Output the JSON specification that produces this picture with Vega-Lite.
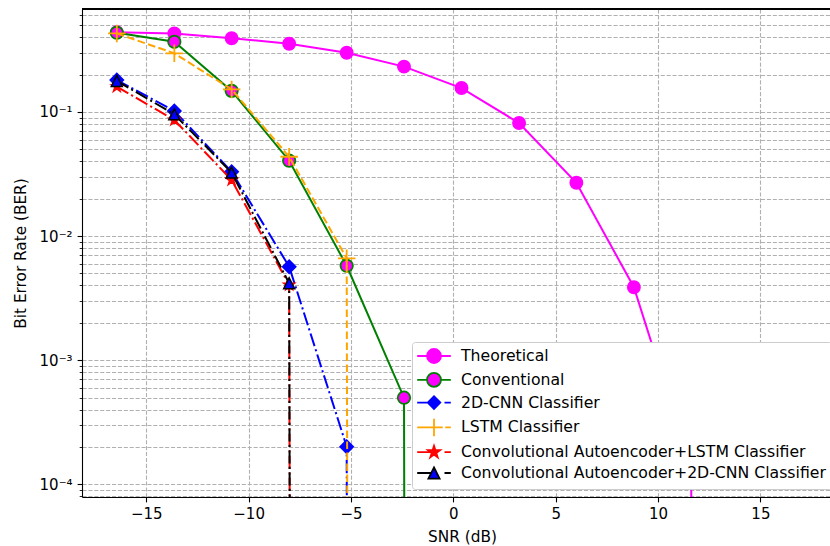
{
  "$schema": "https://vega.github.io/schema/vega-lite/v6.json",
  "width": 748,
  "height": 488,
  "autosize": {"type": "none"},
  "padding": {"left": 82, "top": 9, "right": 0, "bottom": 49},
  "background": "white",
  "config": {
    "view": {"stroke": null},
    "font": "DejaVu Sans",
    "axis": {
      "labelFont": "DejaVu Sans", "titleFont": "DejaVu Sans",
      "labelFontSize": 15, "titleFontSize": 15.3, "titleFontWeight": "normal",
      "labelColor": "black", "titleColor": "black",
      "domainColor": "black", "domainWidth": 1.1,
      "tickColor": "black", "tickWidth": 1.1, "tickSize": 4.9,
      "gridColor": "#b0b0b0", "gridDash": [4.1, 1.8], "gridWidth": 1.1,
      "labelFlush": false, "labelOverlap": false
    }
  },
  "data": {
    "values": [
      {"snr": -16.44, "ber": 0.44, "series": "Theoretical"},
      {"snr": -13.63, "ber": 0.43, "series": "Theoretical"},
      {"snr": -10.83, "ber": 0.393, "series": "Theoretical"},
      {"snr": -8.02, "ber": 0.355, "series": "Theoretical"},
      {"snr": -5.21, "ber": 0.300, "series": "Theoretical"},
      {"snr": -2.41, "ber": 0.232, "series": "Theoretical"},
      {"snr": 0.40, "ber": 0.156, "series": "Theoretical"},
      {"snr": 3.21, "ber": 0.0815, "series": "Theoretical"},
      {"snr": 6.01, "ber": 0.0269, "series": "Theoretical"},
      {"snr": 8.82, "ber": 0.00387, "series": "Theoretical"},
      {"snr": 11.62, "ber": 0.000135, "series": "Theoretical"},
      {"snr": 14.43, "ber": 1e-200, "series": "Theoretical"},
      {"snr": -16.44, "ber": 0.435, "series": "Conventional"},
      {"snr": -13.63, "ber": 0.368, "series": "Conventional"},
      {"snr": -10.83, "ber": 0.148, "series": "Conventional"},
      {"snr": -8.02, "ber": 0.0405, "series": "Conventional"},
      {"snr": -5.21, "ber": 0.00577, "series": "Conventional"},
      {"snr": -2.41, "ber": 0.000499, "series": "Conventional"},
      {"snr": 0.40, "ber": 1e-200, "series": "Conventional"},
      {"snr": -16.44, "ber": 0.181, "series": "2D-CNN Classifier"},
      {"snr": -13.63, "ber": 0.102, "series": "2D-CNN Classifier"},
      {"snr": -10.83, "ber": 0.033, "series": "2D-CNN Classifier"},
      {"snr": -8.02, "ber": 0.00567, "series": "2D-CNN Classifier"},
      {"snr": -5.21, "ber": 0.000201, "series": "2D-CNN Classifier"},
      {"snr": -2.41, "ber": 1e-200, "series": "2D-CNN Classifier"},
      {"snr": -16.44, "ber": 0.43, "series": "LSTM Classifier"},
      {"snr": -13.63, "ber": 0.297, "series": "LSTM Classifier"},
      {"snr": -10.83, "ber": 0.152, "series": "LSTM Classifier"},
      {"snr": -8.02, "ber": 0.0436, "series": "LSTM Classifier"},
      {"snr": -5.21, "ber": 0.00662, "series": "LSTM Classifier"},
      {"snr": -2.41, "ber": 1e-200, "series": "LSTM Classifier"},
      {"snr": -16.44, "ber": 0.160, "series": "Convolutional Autoencoder+LSTM Classifier"},
      {"snr": -13.63, "ber": 0.0862, "series": "Convolutional Autoencoder+LSTM Classifier"},
      {"snr": -10.83, "ber": 0.0283, "series": "Convolutional Autoencoder+LSTM Classifier"},
      {"snr": -8.02, "ber": 0.00404, "series": "Convolutional Autoencoder+LSTM Classifier"},
      {"snr": -5.21, "ber": 1e-200, "series": "Convolutional Autoencoder+LSTM Classifier"},
      {"snr": -16.44, "ber": 0.178, "series": "Convolutional Autoencoder+2D-CNN Classifier"},
      {"snr": -13.63, "ber": 0.0958, "series": "Convolutional Autoencoder+2D-CNN Classifier"},
      {"snr": -10.83, "ber": 0.0325, "series": "Convolutional Autoencoder+2D-CNN Classifier"},
      {"snr": -8.02, "ber": 0.00417, "series": "Convolutional Autoencoder+2D-CNN Classifier"},
      {"snr": -5.21, "ber": 1e-200, "series": "Convolutional Autoencoder+2D-CNN Classifier"}
    ]
  },
  "layer": [
    {
      "transform": [{"filter": "datum.series === 'Theoretical'"}],
      "mark": {"type": "line", "strokeWidth": 2, "clip": true},
      "encoding": {
        "x": {
          "field": "snr", "type": "quantitative",
          "scale": {"domain": [-18.14, 18.4], "nice": false, "zero": false},
          "axis": {
            "title": "SNR (dB)",
            "values": [-15, -10, -5, 0, 5, 10, 15], "format": "d",
            "labelExpr": "replace(datum.label, '-', '\u2212')",
            "grid": true, "labelPadding": 4.5, "titlePadding": 8, "titleX": 380
          }
        },
        "y": {
          "field": "ber", "type": "quantitative",
          "scale": {"type": "log", "domain": [7.9e-5, 0.676], "nice": false},
          "axis": {
            "title": "Bit Error Rate (BER)",
            "values": [8e-5, 9e-5, 1e-4, 2e-4, 3e-4, 4e-4, 5e-4, 6e-4, 7e-4, 8e-4, 9e-4, 0.001, 0.002, 0.003, 0.004, 0.005, 0.006, 0.007, 0.008, 0.009, 0.01, 0.02, 0.03, 0.04, 0.05, 0.06, 0.07, 0.08, 0.09, 0.1, 0.2, 0.3, 0.4, 0.5, 0.6],
            "labelExpr": "abs(log(datum.value)/LN10 - round(log(datum.value)/LN10)) < 0.001 ? '10' + (round(log(datum.value)/LN10) == -1 ? '\u207b\u00b9' : round(log(datum.value)/LN10) == -2 ? '\u207b\u00b2' : round(log(datum.value)/LN10) == -3 ? '\u207b\u00b3' : '\u207b\u2074') : ''",
            "grid": true,
            "tickSize": {"condition": {"test": "abs(log(datum.value)/LN10 - round(log(datum.value)/LN10)) < 0.001", "value": 4.9}, "value": 2.8},
            "tickWidth": {"condition": {"test": "abs(log(datum.value)/LN10 - round(log(datum.value)/LN10)) < 0.001", "value": 1.1}, "value": 0.85},
            "labelPadding": 5, "titleX": -54
          }
        },
        "stroke": {
          "field": "series", "type": "nominal",
          "scale": {
            "domain": ["Theoretical", "Conventional", "2D-CNN Classifier", "LSTM Classifier", "Convolutional Autoencoder+LSTM Classifier", "Convolutional Autoencoder+2D-CNN Classifier"],
            "range": ["#ff00ff", "#008000", "#0000ff", "#ffa500", "#ff0000", "#000000"]
          },
          "legend": {
            "orient": "none", "legendX": 330, "legendY": 333, "title": null,
            "labelFont": "DejaVu Sans", "labelFontSize": 15.7, "labelColor": "black", "labelLimit": 600,
            "symbolSize": 196, "symbolOffset": 8, "labelOffset": 19, "rowPadding": 1.8, "padding": 6,
            "symbolStrokeWidth": 1.8,
            "fillColor": "white", "strokeColor": "#cccccc", "cornerRadius": 3,
            "symbolType": {"expr": "datum.value === 'Theoretical' || datum.value === 'Conventional' ? 'M-2.4,0H-1M1,0H2.4M-1,0A1,1,0,1,0,1,0A1,1,0,1,0,-1,0Z' : datum.value === '2D-CNN Classifier' ? 'M-2.4,0H-0.9M1.5,0H2.4M-0.9,0L0,-0.9L0.9,0L0,0.9Z' : datum.value === 'LSTM Classifier' ? 'M-2.4,0H1.25M1.6,0H2.4M0,-1.25V1.25' : datum.value === 'Convolutional Autoencoder+LSTM Classifier' ? 'M-2.4,0H-0.47M1.5,0H2.4M0,-0.9L0.202,-0.278L0.856,-0.278L0.327,0.106L0.529,0.728L0,0.344L-0.529,0.728L-0.327,0.106L-0.856,-0.278L-0.202,-0.278Z' : 'M-2.4,0H-0.4M1.5,0H2.4M0,-0.8L0.8,0.8L-0.8,0.8Z'"},
            "symbolFillColor": {"expr": "datum.value === 'Theoretical' || datum.value === 'Conventional' ? '#ff00ff' : datum.value === 'Convolutional Autoencoder+LSTM Classifier' ? '#ff0000' : datum.value === 'LSTM Classifier' ? '#ffa500' : '#0000ff'"}
          }
        }
      }
    },
    {
      "transform": [{"filter": "datum.series === 'Theoretical'"}],
      "mark": {"type": "point", "filled": true, "shape": "circle", "size": 154, "fill": "#ff00ff", "stroke": "#ff00ff", "strokeWidth": 1.5, "opacity": 1, "clip": true},
      "encoding": {"x": {"field": "snr", "type": "quantitative"}, "y": {"field": "ber", "type": "quantitative"}}
    },
    {
      "transform": [{"filter": "datum.series === 'Conventional'"}],
      "mark": {"type": "line", "strokeWidth": 2, "clip": true},
      "encoding": {"x": {"field": "snr", "type": "quantitative"}, "y": {"field": "ber", "type": "quantitative"}, "stroke": {"field": "series", "type": "nominal"}}
    },
    {
      "transform": [{"filter": "datum.series === 'Conventional'"}],
      "mark": {"type": "point", "filled": true, "shape": "circle", "size": 154, "fill": "#ff00ff", "stroke": "#008000", "strokeWidth": 1.8, "opacity": 1, "clip": true},
      "encoding": {"x": {"field": "snr", "type": "quantitative"}, "y": {"field": "ber", "type": "quantitative"}}
    },
    {
      "transform": [{"filter": "datum.series === '2D-CNN Classifier'"}],
      "mark": {"type": "line", "strokeWidth": 2, "strokeDash": [13.3, 3.3, 2.1, 3.3], "clip": true},
      "encoding": {"x": {"field": "snr", "type": "quantitative"}, "y": {"field": "ber", "type": "quantitative"}, "stroke": {"field": "series", "type": "nominal"}}
    },
    {
      "transform": [{"filter": "datum.series === '2D-CNN Classifier'"}],
      "mark": {"type": "point", "filled": true, "shape": "M-1,0L0,-1L1,0L0,1Z", "size": 177, "fill": "#0000ff", "stroke": "#0000ff", "strokeWidth": 1.5, "opacity": 1, "clip": true},
      "encoding": {"x": {"field": "snr", "type": "quantitative"}, "y": {"field": "ber", "type": "quantitative"}}
    },
    {
      "transform": [{"filter": "datum.series === 'LSTM Classifier'"}],
      "mark": {"type": "line", "strokeWidth": 2, "strokeDash": [7.7, 3.3], "clip": true},
      "encoding": {"x": {"field": "snr", "type": "quantitative"}, "y": {"field": "ber", "type": "quantitative"}, "stroke": {"field": "series", "type": "nominal"}}
    },
    {
      "transform": [{"filter": "datum.series === 'LSTM Classifier'"}],
      "mark": {"type": "point", "filled": true, "shape": "M-1,0H1M0,-1V1", "size": 306, "fill": "#ffa500", "stroke": "#ffa500", "strokeWidth": 1.8, "opacity": 1, "clip": true},
      "encoding": {"x": {"field": "snr", "type": "quantitative"}, "y": {"field": "ber", "type": "quantitative"}}
    },
    {
      "transform": [{"filter": "datum.series === 'Convolutional Autoencoder+LSTM Classifier'"}],
      "mark": {"type": "line", "strokeWidth": 2, "strokeDash": [13.3, 3.3, 2.1, 3.3], "clip": true},
      "encoding": {"x": {"field": "snr", "type": "quantitative"}, "y": {"field": "ber", "type": "quantitative"}, "stroke": {"field": "series", "type": "nominal"}}
    },
    {
      "transform": [{"filter": "datum.series === 'Convolutional Autoencoder+LSTM Classifier'"}],
      "mark": {"type": "point", "filled": true, "shape": "M0,-1L0.2245,-0.309L0.9511,-0.309L0.3633,0.118L0.5878,0.809L0,0.382L-0.5878,0.809L-0.3633,0.118L-0.9511,-0.309L-0.2245,-0.309Z", "size": 150, "fill": "#ff0000", "stroke": "#ff0000", "strokeWidth": 1.2, "opacity": 1, "clip": true},
      "encoding": {"x": {"field": "snr", "type": "quantitative"}, "y": {"field": "ber", "type": "quantitative"}}
    },
    {
      "transform": [{"filter": "datum.series === 'Convolutional Autoencoder+2D-CNN Classifier'"}],
      "mark": {"type": "line", "strokeWidth": 2, "strokeDash": [13.3, 3.3, 2.1, 3.3], "clip": true},
      "encoding": {"x": {"field": "snr", "type": "quantitative"}, "y": {"field": "ber", "type": "quantitative"}, "stroke": {"field": "series", "type": "nominal"}}
    },
    {
      "transform": [{"filter": "datum.series === 'Convolutional Autoencoder+2D-CNN Classifier'"}],
      "mark": {"type": "point", "filled": true, "shape": "M0,-1L1,1L-1,1Z", "size": 121, "fill": "#0000ff", "stroke": "#000000", "strokeWidth": 1.5, "opacity": 1, "clip": true},
      "encoding": {"x": {"field": "snr", "type": "quantitative"}, "y": {"field": "ber", "type": "quantitative"}}
    },
    {
      "mark": {"type": "rule", "color": "black", "strokeWidth": 1.1},
      "encoding": {"y": {"datum": 0.676, "type": "quantitative"}}
    }
  ]
}
